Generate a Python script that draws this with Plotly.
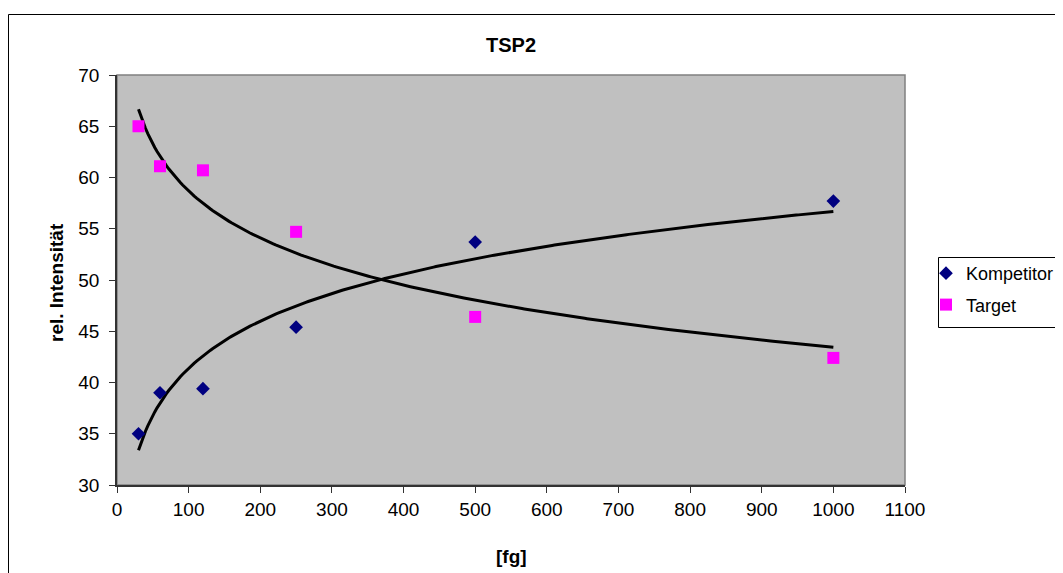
import numpy as np
import plotly.graph_objects as go

fg = [30, 60, 120, 250, 500, 1000]
kompetitor = [35.0, 39.0, 39.4, 45.4, 53.7, 57.7]
target = [65.0, 61.1, 60.7, 54.7, 46.4, 42.4]
x_ticks = list(range(0, 1101, 100))
y_ticks = list(range(30, 71, 5))

# logarithmic trendlines (least squares on ln x), as in the original chart
lx = np.log(np.array(fg, dtype=float))
xs = np.linspace(min(fg), max(fg), 300)
ka, kb = np.polyfit(lx, np.array(kompetitor), 1)
ta, tb = np.polyfit(lx, np.array(target), 1)
k_trend = ka * np.log(xs) + kb
t_trend = ta * np.log(xs) + tb

fig = go.Figure()
fig.add_trace(go.Scatter(x=xs, y=k_trend, mode="lines", line=dict(color="black", width=3),
                         showlegend=False, hoverinfo="skip"))
fig.add_trace(go.Scatter(x=xs, y=t_trend, mode="lines", line=dict(color="black", width=3),
                         showlegend=False, hoverinfo="skip"))
fig.add_trace(go.Scatter(x=fg, y=kompetitor, mode="markers", name="Kompetitor",
                         legendgroup="k",
                         marker=dict(symbol="diamond", color="#000080", size=10.5)))
fig.add_trace(go.Scatter(x=fg, y=target, mode="markers", name="Target",
                         legendgroup="t",
                         marker=dict(symbol="square", color="#FF00FF", size=12)))

font = "Liberation Sans, Arial, sans-serif"
OFF = 8  # page body margin
W, H = 1063 - OFF, 573 - OFF
# plot area in screen pixels
L, R, T, B = 117, 905, 75, 485
pw, ph = R - L, B - T

def px2x(p):
    return (p - L) / pw

def px2y(p):
    return (B - p) / ph

fig.update_layout(
    width=W, height=H,
    margin=dict(l=L - OFF, r=W - (R - OFF), t=T - OFF, b=H - (B - OFF), autoexpand=False),
    paper_bgcolor="white",
    plot_bgcolor="#C0C0C0",
    font=dict(family=font, size=19, color="black"),
    title=dict(text="<b>TSP2</b>", x=px2x(511), xref="paper", xanchor="center",
               y=1 - (45 - OFF) / H, yanchor="middle", font=dict(size=20, family=font)),
    xaxis=dict(range=[0, 1100], tickvals=x_ticks, showgrid=False, zeroline=False,
               showline=True, linecolor="#333333", linewidth=1.5,
               ticks="outside", ticklen=6, tickcolor="#333333",
               ticklabelstandoff=0, tickfont=dict(size=19)),
    yaxis=dict(range=[30, 70], tickvals=y_ticks, showgrid=False, zeroline=False,
               showline=True, linecolor="#333333", linewidth=1.5,
               ticks="outside", ticklen=6, tickcolor="#333333",
               ticklabelstandoff=6, tickfont=dict(size=19)),
    legend=dict(x=px2x(926), y=px2y(255), xanchor="left", yanchor="top",
                borderwidth=0, bgcolor="rgba(0,0,0,0)",
                font=dict(size=18), tracegroupgap=5, itemwidth=30),
    annotations=[
        dict(text="<b>[fg]</b>", xref="paper", yref="paper", x=px2x(511), y=px2y(556),
             xanchor="center", yanchor="middle", showarrow=False, font=dict(size=19)),
        dict(text="<b>rel. Intensität</b>", xref="paper", yref="paper", x=px2x(56), y=px2y(283),
             xanchor="center", yanchor="middle", showarrow=False, textangle=-90,
             font=dict(size=19)),
    ],
    shapes=[
        dict(type="rect", xref="paper", yref="paper", x0=0, x1=1, y0=0, y1=1,
             line=dict(color="#808080", width=1.5), layer="below"),
        dict(type="rect", xref="paper", yref="paper",
             x0=px2x(8.5), x1=px2x(1080), y0=px2y(14.5), y1=px2y(600),
             line=dict(color="black", width=1)),
        dict(type="rect", xref="paper", yref="paper",
             x0=px2x(938.5), x1=px2x(1080), y0=px2y(257.5), y1=px2y(327.5),
             line=dict(color="black", width=1), fillcolor="white", layer="below"),
    ],
)

fig.write_html("out.html")
